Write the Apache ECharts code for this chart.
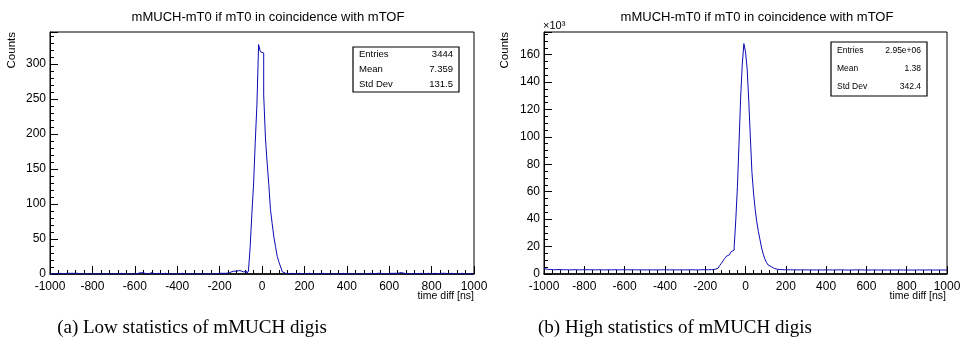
<!DOCTYPE html>
<html>
<head>
<meta charset="utf-8">
<script src="https://cdn.jsdelivr.net/npm/echarts@6/dist/echarts.min.js"></script>
<style>
  html, body { margin: 0; padding: 0; background: #fff; }
  #chart { width: 965px; height: 348px; }
</style>
</head>
<body>
<div id="chart"></div>
<script>
// histogram binning: 250 bins of 8 ns from -1000 to 1000
const binStart = -1000
const binWidth = 8

// low statistics run, counts per bin
const lowStatCounts = [
  // -1000 .. -808
  0, 0, 1, 0, 0, 1, 0, 0, 2, 1, 0, 1, 2, 1, 0, 1, 0, 0, 1, 0, 0, 0, 0, 0, 0,
  // -800 .. -608
  0, 0, 0, 0, 0, 0, 0, 1, 0, 0, 0, 0, 0, 1, 0, 1, 1, 0, 0, 1, 0, 0, 0, 1, 0,
  // -600 .. -408
  1, 1, 0, 2, 0, 1, 0, 0, 0, 2, 0, 0, 0, 1, 0, 0, 0, 1, 0, 0, 0, 0, 0, 0, 0,
  // -400 .. -208
  0, 0, 1, 0, 0, 0, 0, 1, 0, 0, 0, 0, 0, 1, 0, 1, 0, 0, 0, 1, 0, 0, 0, 0, 1,
  // -200 .. -8
  0, 1, 0, 1, 1, 2, 3, 4, 5, 4, 3, 5, 6, 3, 1, 4, 1, 4, 38, 85, 127, 187, 242, 328, 318,
  // 0 .. 192
  316, 256, 196, 160, 128, 92, 72, 53, 39, 25, 17, 10, 3, 1, 2, 0, 1, 1, 0, 0, 1, 1, 0, 0, 1,
  // 200 .. 392
  0, 0, 1, 0, 0, 1, 0, 0, 0, 0, 1, 0, 0, 0, 0, 1, 0, 1, 0, 0, 0, 0, 1, 0, 0,
  // 400 .. 592
  0, 0, 0, 0, 1, 0, 0, 0, 1, 0, 0, 0, 0, 1, 1, 0, 0, 1, 2, 1, 1, 0, 1, 0, 0,
  // 600 .. 792
  1, 2, 1, 0, 1, 0, 2, 0, 1, 0, 0, 1, 0, 0, 1, 0, 0, 0, 1, 0, 0, 0, 1, 0, 0,
  // 800 .. 992
  0, 1, 0, 0, 1, 1, 2, 1, 1, 0, 0, 1, 0, 0, 0, 0, 0, 1, 0, 0, 0, 0, 0, 0, 0,
]

// high statistics run, counts per bin in units of 10^3
const highStatCounts = [
  // -1000 .. -808
  4.1, 3.4, 3.2, 3.3, 3.2, 3.1, 3.2, 3.2, 3.1, 3.2, 3.1, 3.1, 3.2, 3.1, 3.1, 3.0, 3.1, 3.1, 3.2, 3.1, 3.1, 3.0, 3.1, 3.1, 3.0,
  // -800 .. -608
  3.1, 3.0, 3.1, 3.0, 3.1, 3.1, 3.0, 3.0, 3.1, 3.0, 3.0, 3.1, 3.0, 3.0, 3.1, 3.0, 3.0, 3.0, 3.1, 3.0, 3.0, 3.0, 3.1, 3.0, 3.0,
  // -600 .. -408
  3.0, 3.1, 3.0, 3.0, 3.0, 3.1, 3.0, 3.0, 3.0, 3.0, 3.1, 3.0, 3.0, 3.0, 3.0, 3.0, 3.1, 3.0, 3.0, 3.0, 3.0, 3.0, 3.0, 3.1, 3.0,
  // -400 .. -208
  3.0, 3.0, 3.0, 3.1, 3.0, 3.0, 3.0, 3.0, 3.0, 3.1, 3.0, 3.0, 3.0, 3.0, 3.0, 3.0, 3.1, 3.0, 3.0, 3.0, 3.0, 3.0, 3.1, 3.1, 3.1,
  // -200 .. -8
  3.1, 3.1, 3.2, 3.2, 3.3, 3.4, 3.7, 4.2, 5.0, 6.2, 7.8, 9.5, 11.2, 12.8, 14.0, 15.2, 16.2, 17.5, 20, 40, 64, 96, 129, 153, 168,
  // 0 .. 192
  162, 150, 127, 100, 74, 59, 47, 38, 31, 25, 19, 14.5, 11, 8.5, 6.6, 5.3, 4.5, 4.0, 3.6, 3.4, 3.3, 3.2, 3.2, 3.1, 3.1,
  // 200 .. 392
  3.0, 3.0, 3.1, 3.0, 3.0, 2.9, 3.0, 3.0, 3.0, 2.9, 3.0, 3.0, 3.0, 3.0, 2.9, 3.0, 3.0, 3.0, 2.9, 3.0, 3.0, 3.0, 2.9, 3.0, 3.0,
  // 400 .. 592
  2.9, 3.0, 3.0, 2.9, 3.0, 3.0, 2.9, 3.0, 2.9, 3.0, 3.0, 2.9, 3.0, 2.9, 3.0, 2.9, 3.0, 3.0, 2.9, 3.0, 2.9, 3.0, 2.9, 2.9, 3.0,
  // 600 .. 792
  2.9, 3.0, 2.9, 2.9, 3.0, 2.9, 2.9, 3.0, 2.9, 2.9, 2.9, 3.0, 2.9, 2.9, 2.9, 3.0, 2.9, 2.9, 2.9, 2.9, 3.0, 2.9, 2.9, 2.9, 2.9,
  // 800 .. 992
  2.9, 2.9, 3.0, 2.9, 2.9, 2.9, 2.9, 3.0, 2.9, 2.9, 2.9, 2.9, 2.9, 3.0, 2.9, 2.9, 2.9, 2.9, 2.9, 2.9, 3.0, 2.9, 2.9, 2.9, 2.9,
]

const plotTitle = 'mMUCH-mT0 if mT0 in coincidence with mTOF'
const xAxisName = 'time diff [ns]'
const yAxisName = 'Counts'
const statNames = ['Entries', 'Mean', 'Std Dev']
const lowStatValues = ['3444', '7.359', '131.5']
const highStatValues = ['2.95e+06', '1.38', '342.4']
const captions = ['(a) Low statistics of mMUCH digis', '(b) High statistics of mMUCH digis']

const SANS = "'Liberation Sans', Arial, Helvetica, sans-serif"
const SERIF = "'Liberation Serif', 'Times New Roman', serif"
const LINE_BLUE = '#0a0ab4'

// histogram outline: one point per bin low edge, plus the closing upper edge
function toSteps(counts) {
  const pts = counts.map((v, i) => [binStart + i * binWidth, v])
  pts.push([binStart + counts.length * binWidth, counts[counts.length - 1]])
  return pts
}

const plainNumber = (v) => String(v)

function xAxisFor(gridIndex, fontSize) {
  return {
    type: 'value',
    gridIndex,
    min: -1000,
    max: 1000,
    interval: 200,
    axisLine: { show: true, onZero: false, lineStyle: { color: '#000', width: 1.5 } },
    axisTick: { inside: true, length: 8, lineStyle: { color: '#000' } },
    minorTick: { show: true, splitNumber: 5, length: 4, lineStyle: { color: '#000' } },
    splitLine: { show: false },
    axisLabel: { color: '#000', fontFamily: SANS, fontSize, margin: 7, formatter: plainNumber },
  }
}

function yAxisFor(gridIndex, max, interval, minorSplit, fontSize) {
  return {
    type: 'value',
    gridIndex,
    min: 0,
    max,
    interval,
    axisLine: { show: true, onZero: false, lineStyle: { color: '#000', width: 1 } },
    axisTick: { inside: true, length: 8, lineStyle: { color: '#000' } },
    minorTick: { show: true, splitNumber: minorSplit, length: 4, lineStyle: { color: '#000' } },
    splitLine: { show: false },
    axisLabel: { color: '#000', fontFamily: SANS, fontSize, margin: 4, showMaxLabel: false, formatter: plainNumber },
  }
}

function statBox(x, y, w, h, values, fontSize) {
  const rowH = h / 3
  const items = [
    {
      type: 'rect',
      shape: { x, y, width: w, height: h },
      style: { fill: '#fff', stroke: '#000', lineWidth: 1.2 },
      z: 10,
    },
  ]
  statNames.forEach((name, i) => {
    const cy = y + rowH * (i + 0.5)
    items.push({
      type: 'text', x: x + 6, y: cy, z: 11,
      style: { text: name, fontFamily: SANS, fontSize, fill: '#000', align: 'left', verticalAlign: 'middle' },
    })
    items.push({
      type: 'text', x: x + w - 6, y: cy, z: 11,
      style: { text: values[i], fontFamily: SANS, fontSize, fill: '#000', align: 'right', verticalAlign: 'middle' },
    })
  })
  return items
}

const chart = echarts.init(document.getElementById('chart'), null, { renderer: 'canvas' })

const option = {
  backgroundColor: '#fff',
  animation: false,
  title: [
    {
      text: plotTitle, left: 263, top: 6, textAlign: 'center',
      textStyle: { fontFamily: SANS, fontSize: 13, fontWeight: 'normal', color: '#000' },
    },
    {
      text: plotTitle, left: 752, top: 6, textAlign: 'center',
      textStyle: { fontFamily: SANS, fontSize: 13, fontWeight: 'normal', color: '#000' },
    },
  ],
  grid: [
    { left: 50, top: 32, width: 424, height: 242, show: true, borderColor: '#000', borderWidth: 1 },
    { left: 544, top: 32, width: 403, height: 242, show: true, borderColor: '#000', borderWidth: 1 },
  ],
  xAxis: [xAxisFor(0, 12), xAxisFor(1, 12)],
  yAxis: [yAxisFor(0, 346, 50, 5, 12), yAxisFor(1, 176.5, 20, 4, 12)],
  series: [
    {
      type: 'line', xAxisIndex: 0, yAxisIndex: 0, step: 'end', symbol: 'none',
      sampling: false, lineStyle: { color: LINE_BLUE, width: 1 },
      data: toSteps(lowStatCounts),
    },
    {
      type: 'line', xAxisIndex: 1, yAxisIndex: 1, step: 'end', symbol: 'none',
      sampling: false, lineStyle: { color: LINE_BLUE, width: 1 },
      data: toSteps(highStatCounts),
    },
  ],
  graphic: [
    ...statBox(353, 47, 106, 45, lowStatValues, 9.5),
    ...statBox(831, 42, 96, 54, highStatValues, 8.5),
    {
      type: 'text', x: 12, y: 32, rotation: Math.PI / 2,
      style: { text: yAxisName, fontFamily: SANS, fontSize: 11.5, fill: '#000', align: 'right', verticalAlign: 'middle' },
    },
    {
      type: 'text', x: 505, y: 32, rotation: Math.PI / 2,
      style: { text: yAxisName, fontFamily: SANS, fontSize: 11.5, fill: '#000', align: 'right', verticalAlign: 'middle' },
    },
    {
      type: 'text', x: 474, y: 296,
      style: { text: xAxisName, fontFamily: SANS, fontSize: 10.5, fill: '#000', align: 'right', verticalAlign: 'middle' },
    },
    {
      type: 'text', x: 946, y: 296,
      style: { text: xAxisName, fontFamily: SANS, fontSize: 10.5, fill: '#000', align: 'right', verticalAlign: 'middle' },
    },
    {
      type: 'text', x: 543, y: 31,
      style: { text: '×10³', fontFamily: SANS, fontSize: 11, fill: '#000', align: 'left', verticalAlign: 'bottom' },
    },
    {
      type: 'text', x: 192, y: 328,
      style: { text: captions[0], fontFamily: SERIF, fontSize: 19, fill: '#000', align: 'center', verticalAlign: 'middle' },
    },
    {
      type: 'text', x: 675, y: 328,
      style: { text: captions[1], fontFamily: SERIF, fontSize: 19, fill: '#000', align: 'center', verticalAlign: 'middle' },
    },
  ],
}

chart.setOption(option)
</script>
</body>
</html>
